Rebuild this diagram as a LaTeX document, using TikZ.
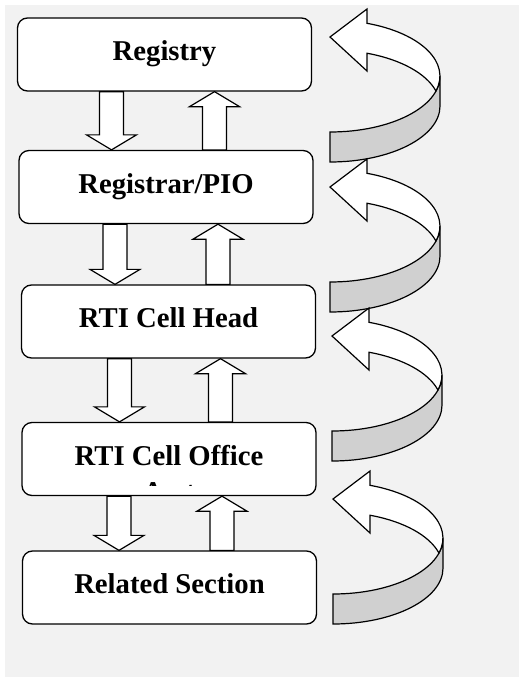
\documentclass[tikz,border=0pt]{standalone}
\usepackage{fontspec}
\setmainfont{Liberation Serif}
\usepackage{tikz}
\usetikzlibrary{calc}

\definecolor{pagegray}{HTML}{F2F2F2}
\definecolor{bandgray}{HTML}{D0D0D0}

% hollow block arrow from #1 (tail) to the level of #2 (tip)
\newcommand\blockarrow[2]{%
  \coordinate (ba) at (#1);
  \coordinate (bt) at (#2 -| ba);
  \coordinate (bh) at ($(bt)!15pt!(ba)$);
  \draw[blockarr] ($(ba)!12pt!90:(bt)$) -- ($(bh)!12pt!-90:(ba)$) -- ($(bh)!25pt!-90:(ba)$) -- (bt)
    -- ($(bh)!25pt!90:(ba)$) -- ($(bh)!12pt!90:(ba)$) -- ($(ba)!12pt!-90:(bt)$) -- cycle;
}

\begin{document}
\begin{tikzpicture}[x=1pt, y=-1pt,
    box/.style = {draw, fill=white, rounded corners=10pt, line width=1.3pt,
      minimum width=294pt, minimum height=73pt, text height=19pt, text depth=7pt,
      font=\bfseries\fontsize{28.7}{34}\selectfont},
    blockarr/.style = {draw, fill=white, line width=1.2pt},
    turnarrow/.pic = {
      \filldraw[fill=bandgray, line width=1.2pt] (110,39) arc[start angle=0, end angle=90, x radius=110, y radius=56]
        -- (0,125) arc[start angle=90, end angle=0, x radius=110, y radius=56] -- cycle;
      \filldraw[fill=white, line width=1.2pt] (0,0) -- (37,-28) -- (37,-13.7)
        arc[start angle=-70.3, end angle=15.5, x radius=110, y radius=56]
        arc[start angle=-15.5, end angle=-70.3, x radius=110, y radius=56]
        -- (37,34) -- cycle;
    }]
  \useasboundingbox (0,0) rectangle (519,677);
  \fill[pagegray] (5,5) rectangle (519,677);

  \node[box](reg) at (164.5,54.5) {Registry};
  \node[box](pio) at (166,187) {Registrar/PIO};
  \node[box](head) at (168.5,321.5) {RTI Cell Head};
  \node[box](off) at (169,459) {RTI Cell Office};
  \node[box](rel) at (169.5,587.5) {Related Section};

  % second line of the office box, cut off by the box
  \begin{scope}
    \clip (off.north west) rectangle ($(off.south east)+(0,-11)$);
    \node[anchor=base, font=\bfseries\fontsize{28.7}{34}\selectfont](asst) at ($(off.center)+(0,42)$) {Asst};
  \end{scope}

  \foreach \hi/\lo/\dd/\du in {reg/pio/-53/50, pio/head/-51/52, head/off/-49/52, off/rel/-50/53} {
    \blockarrow{$(\hi.south)+(\dd,0)$}{\lo.north}
    \blockarrow{$(\hi.south |- \lo.north)+(\du,0)$}{\hi.south}
  }

  \foreach \tx/\ty in {330/37, 330/187, 332/336, 333/499}
    \pic at (\tx,\ty) {turnarrow};
\end{tikzpicture}
\end{document}
